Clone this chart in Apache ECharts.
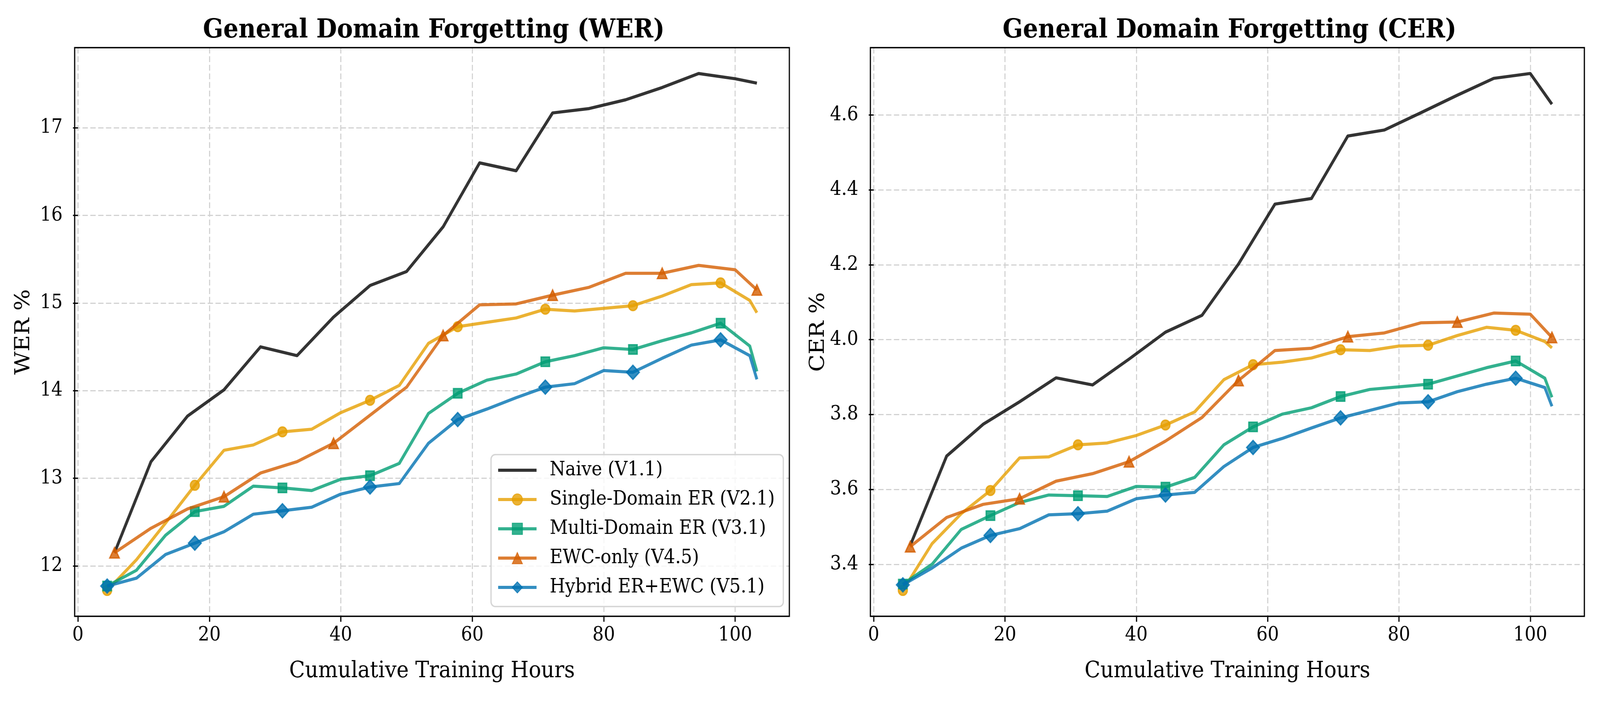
<!DOCTYPE html>
<html>
<head>
<meta charset="utf-8">
<script src="https://cdn.jsdelivr.net/npm/echarts@6/dist/echarts.min.js"></script>
<style>
html,body{margin:0;padding:0;background:#fff;overflow:hidden}
#wrap{position:fixed;left:0;top:0;width:100vw;height:100vh;overflow:hidden;background:#fff}
#c{width:4500px;height:1800px;transform-origin:0 0}
</style>
</head>
<body>
<div id="wrap"><div id="c"></div></div>
<script>
// ---------- data ----------
const seriesNames = ['Naive (V1.1)', 'Single-Domain ER (V2.1)', 'Multi-Domain ER (V3.1)', 'EWC-only (V4.5)', 'Hybrid ER+EWC (V5.1)'];
const hoursER = [4.44, 8.89, 13.33, 17.78, 22.22, 26.67, 31.11, 35.56, 40.00, 44.44, 48.89, 53.33, 57.78, 62.22, 66.67, 71.11, 75.56, 80.00, 84.44, 88.89, 93.33, 97.78, 102.22, 103.3];
const hoursNE = [5.56, 11.11, 16.67, 22.22, 27.78, 33.33, 38.89, 44.44, 50.00, 55.56, 61.11, 66.67, 72.22, 77.78, 83.33, 88.89, 94.44, 100.00, 103.3];

const werNaive  = [12.15, 13.19, 13.71, 14.01, 14.50, 14.40, 14.84, 15.20, 15.36, 15.87, 16.60, 16.51, 17.17, 17.22, 17.32, 17.46, 17.62, 17.56, 17.51];
const werSingle = [11.72, 12.07, 12.49, 12.92, 13.32, 13.38, 13.53, 13.56, 13.75, 13.89, 14.06, 14.54, 14.73, 14.78, 14.83, 14.93, 14.91, 14.94, 14.97, 15.08, 15.21, 15.23, 15.03, 14.89];
const werMulti  = [11.77, 11.95, 12.35, 12.62, 12.68, 12.91, 12.89, 12.86, 12.99, 13.03, 13.17, 13.74, 13.97, 14.12, 14.19, 14.33, 14.40, 14.49, 14.47, 14.57, 14.66, 14.77, 14.51, 14.22];
const werEwc    = [12.15, 12.43, 12.65, 12.79, 13.06, 13.19, 13.40, 13.72, 14.04, 14.63, 14.98, 14.99, 15.09, 15.18, 15.34, 15.34, 15.43, 15.38, 15.15];
const werHybrid = [11.77, 11.86, 12.13, 12.26, 12.39, 12.59, 12.63, 12.67, 12.82, 12.90, 12.94, 13.40, 13.67, 13.79, 13.92, 14.04, 14.08, 14.23, 14.21, 14.37, 14.52, 14.58, 14.40, 14.13];

const cerNaive  = [3.450, 3.689, 3.774, 3.834, 3.898, 3.879, 3.948, 4.020, 4.065, 4.202, 4.362, 4.377, 4.544, 4.560, 4.606, 4.653, 4.698, 4.711, 4.629];
const cerSingle = [3.330, 3.455, 3.535, 3.597, 3.684, 3.687, 3.719, 3.724, 3.744, 3.772, 3.807, 3.893, 3.933, 3.940, 3.951, 3.973, 3.971, 3.983, 3.985, 4.011, 4.033, 4.025, 3.995, 3.978];
const cerMulti  = [3.347, 3.400, 3.493, 3.530, 3.565, 3.585, 3.583, 3.581, 3.608, 3.606, 3.632, 3.719, 3.767, 3.801, 3.818, 3.848, 3.867, 3.874, 3.881, 3.903, 3.925, 3.943, 3.897, 3.846];
const cerEwc    = [3.447, 3.525, 3.560, 3.575, 3.622, 3.642, 3.674, 3.729, 3.792, 3.891, 3.971, 3.977, 4.008, 4.018, 4.045, 4.047, 4.071, 4.068, 4.006];
const cerHybrid = [3.345, 3.390, 3.443, 3.477, 3.495, 3.532, 3.535, 3.542, 3.575, 3.585, 3.592, 3.661, 3.712, 3.736, 3.764, 3.791, 3.811, 3.831, 3.834, 3.861, 3.881, 3.897, 3.872, 3.822];

const xTicks = [0, 20, 40, 60, 80, 100];
const werTicks = [12, 13, 14, 15, 16, 17];
const cerTicks = [3.4, 3.6, 3.8, 4.0, 4.2, 4.4, 4.6];

// ---------- style ----------
const FONT = 'DejaVu Serif';
const colors = ['#000000', '#E69F00', '#009E73', '#D55E00', '#0072B2'];
const symbols = ['none', 'circle', 'rect', 'triangle', 'diamond'];
const symSizes = [0, 25, 24, 27, 36];
const MARK_EVERY = 3;

// fit the 4500x1800 design into the actual viewport (the browser may cap the window width)
const SX = window.innerWidth / 4500;
const SY = window.innerHeight / 1800;
document.getElementById('c').style.transform = 'scale(' + SX + ',' + SY + ')';

const chart = echarts.init(document.getElementById('c'), null, {renderer: 'canvas', width: 4500, height: 1800});

function mkSeries(k, xs, ys, gi) {
  const data = xs.map((x, i) => (symbols[k] !== 'none' && i % MARK_EVERY === 0) ? [x, ys[i]] : {value: [x, ys[i]], symbol: 'none'});
  return {
    type: 'line', name: seriesNames[k], xAxisIndex: gi, yAxisIndex: gi,
    data: data,
    symbol: symbols[k], symbolSize: symSizes[k], showSymbol: symbols[k] !== 'none', showAllSymbol: true,
    lineStyle: {color: colors[k], width: 8, opacity: 0.8, cap: 'butt', join: 'round'},
    itemStyle: {color: colors[k], borderColor: colors[k], borderWidth: 3.5, opacity: 0.8},
    emphasis: {disabled: true}, silent: true, animation: false, clip: false,
    z: 2 + k
  };
}

const werSets = [werNaive, werSingle, werMulti, werEwc, werHybrid];
const cerSets = [cerNaive, cerSingle, cerMulti, cerEwc, cerHybrid];
const xsFor = [hoursNE, hoursER, hoursER, hoursNE, hoursER];

const series = [];
werSets.forEach((ys, k) => series.push(mkSeries(k, xsFor[k], ys, 0)));
cerSets.forEach((ys, k) => series.push(mkSeries(k, xsFor[k], ys, 1)));

const tickLabel = {fontFamily: FONT, fontSize: 50, color: '#000'};
const splitLine = {show: true, lineStyle: {color: '#d2d2d2', width: 3, type: [15, 7]}};
const axisTick = {show: true, length: 14, lineStyle: {color: '#000', width: 3.3}};

function xAxis(gi) {
  return {
    type: 'value', gridIndex: gi, min: -0.5, max: 108.24,
    name: 'Cumulative Training Hours', nameLocation: 'middle', nameGap: 112,
    nameTextStyle: {fontFamily: FONT, fontSize: 58, color: '#000'},
    axisLine: {show: false},
    axisTick: Object.assign({customValues: xTicks}, axisTick),
    axisLabel: Object.assign({customValues: xTicks, margin: 24, formatter: v => String(v)}, tickLabel),
    splitLine: splitLine
  };
}
function yAxis(gi, min, max, ticks, name, fmt) {
  return {
    type: 'value', gridIndex: gi, min: min, max: max,
    name: name, nameLocation: 'middle', nameGap: 114,
    nameTextStyle: {fontFamily: FONT, fontSize: 58, color: '#000'},
    axisLine: {show: false},
    axisTick: Object.assign({customValues: ticks}, axisTick),
    axisLabel: Object.assign({customValues: ticks, margin: 34, formatter: fmt}, tickLabel),
    splitLine: splitLine
  };
}

const legendData = seriesNames.map((n, k) => k === 0 ? {name: n, itemStyle: {opacity: 0}} : {name: n});

const option = {
  backgroundColor: '#ffffff',
  animation: false,
  title: [
    {text: 'General Domain Forgetting (WER)', left: 1215, top: 40, textAlign: 'center',
     textStyle: {fontFamily: FONT, fontSize: 67, fontWeight: 'bold', color: '#000'}},
    {text: 'General Domain Forgetting (CER)', left: 3453, top: 40, textAlign: 'center',
     textStyle: {fontFamily: FONT, fontSize: 67, fontWeight: 'bold', color: '#000'}}
  ],
  grid: [
    {left: 210, top: 122, width: 2010, height: 1456, show: true, borderColor: '#000', borderWidth: 3.3, backgroundColor: 'transparent', z: 10},
    {left: 2448, top: 122, width: 2008, height: 1456, show: true, borderColor: '#000', borderWidth: 3.3, backgroundColor: 'transparent', z: 10}
  ],
  xAxis: [xAxis(0), xAxis(1)],
  yAxis: [
    yAxis(0, 11.425, 17.915, werTicks, 'WER %', v => String(Math.round(v))),
    yAxis(1, 3.261, 4.780, cerTicks, 'CER %', v => v.toFixed(1))
  ],
  legend: {
    show: true, orient: 'vertical', left: 1381, top: 1164,
    padding: [15, 24, 24, 16], itemGap: 25, itemWidth: 108, itemHeight: 36,
    backgroundColor: 'rgba(255,255,255,0.8)', borderColor: '#d5d5d5', borderWidth: 3.5, borderRadius: 12,
    lineStyle: {width: 8},
    textStyle: {fontFamily: FONT, fontSize: 50, color: '#000', lineHeight: 50, padding: [0, 0, 0, 32]},
    data: legendData, selectedMode: false
  },
  series: series
};
chart.setOption(option);
</script>
</body>
</html>
